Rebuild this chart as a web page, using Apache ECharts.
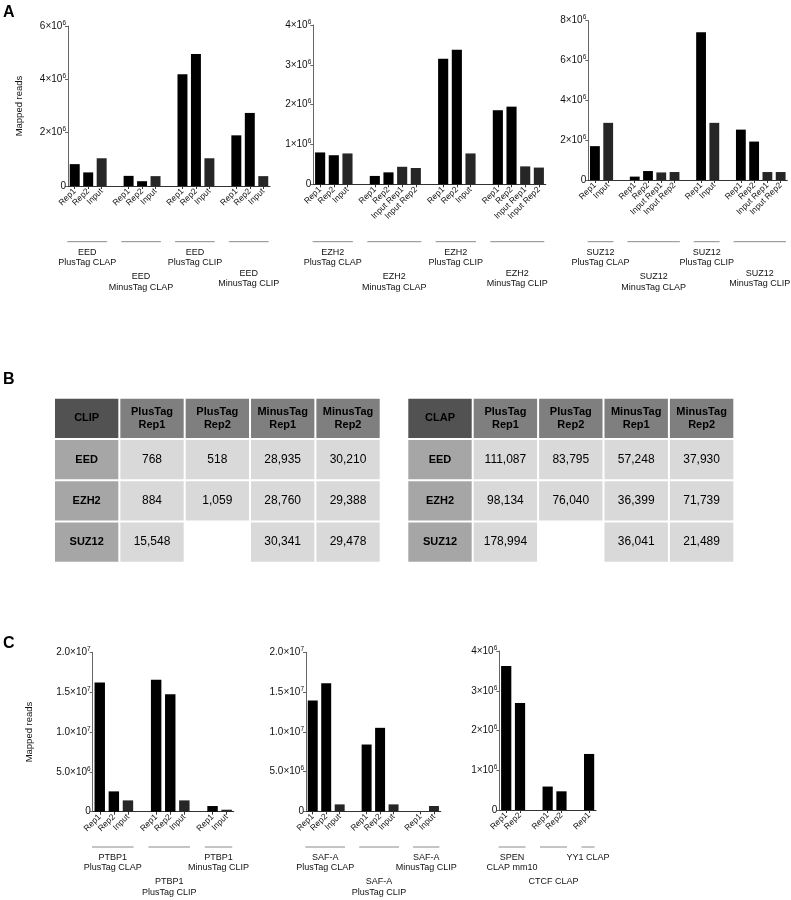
<!DOCTYPE html>
<html><head><meta charset="utf-8">
<script src="https://cdn.jsdelivr.net/npm/echarts@6.0.0/dist/echarts.min.js"></script>
<style>html,body{margin:0;padding:0;background:#fff}#c{width:791px;height:900px}</style>
</head><body><div id="c"></div>
<script>
// ---------------- Data ----------------
const eedCats   = ['Rep1','Rep2','Input','','Rep1','Rep2','Input','','Rep1','Rep2','Input','','Rep1','Rep2','Input'];
const eedVals   = [0.82e6,0.51e6,1.04e6,null,0.38e6,0.18e6,0.37e6,null,4.19e6,4.95e6,1.04e6,null,1.9e6,2.74e6,0.37e6];
const eedGroups = ['EED\nPlusTag CLAP','EED\nMinusTag CLAP','EED\nPlusTag CLIP','EED\nMinusTag CLIP'];
const eedTicks  = [0,2e6,4e6,6e6];

const ezh2Cats   = ['Rep1','Rep2','Input','','Rep1','Rep2','Input Rep1','Input Rep2','','Rep1','Rep2','Input','','Rep1','Rep2','Input Rep1','Input Rep2'];
const ezh2Vals   = [0.8e6,0.73e6,0.775e6,null,0.21e6,0.3e6,0.44e6,0.41e6,null,3.15e6,3.38e6,0.775e6,null,1.86e6,1.95e6,0.45e6,0.42e6];
const ezh2Groups = ['EZH2\nPlusTag CLAP','EZH2\nMinusTag CLAP','EZH2\nPlusTag CLIP','EZH2\nMinusTag CLIP'];
const ezh2Ticks  = [0,1e6,2e6,3e6,4e6];

const suz12Cats   = ['Rep1','Input','','Rep1','Rep2','Input Rep1','Input Rep2','','Rep1','Input','','Rep1','Rep2','Input Rep1','Input Rep2'];
const suz12Vals   = [1.7e6,2.87e6,null,0.17e6,0.45e6,0.38e6,0.4e6,null,7.42e6,2.87e6,null,2.53e6,1.93e6,0.4e6,0.4e6];
const suz12Groups = ['SUZ12\nPlusTag CLAP','SUZ12\nMinusTag CLAP','SUZ12\nPlusTag CLIP','SUZ12\nMinusTag CLIP'];
const suz12Ticks  = [0,2e6,4e6,6e6,8e6];

const ptbp1Cats   = ['Rep1','Rep2','Input','','Rep1','Rep2','Input','','Rep1','Input'];
const ptbp1Vals   = [16.2e6,2.55e6,1.42e6,null,16.55e6,14.75e6,1.42e6,null,0.71e6,0.25e6];
const ptbp1Groups = ['PTBP1\nPlusTag CLAP','PTBP1\nPlusTag CLIP','PTBP1\nMinusTag CLIP'];
const ptbp1Ticks  = [0,5e6,1e7,1.5e7,2e7];

const safaCats   = ['Rep1','Rep2','Input','','Rep1','Rep2','Input','','Rep1','Input'];
const safaVals   = [13.95e6,16.1e6,0.87e6,null,8.4e6,10.5e6,0.87e6,null,0,0.67e6];
const safaGroups = ['SAF-A\nPlusTag CLAP','SAF-A\nPlusTag CLIP','SAF-A\nMinusTag CLIP'];
const safaTicks  = [0,5e6,1e7,1.5e7,2e7];

const otherCats   = ['Rep1','Rep2','','Rep1','Rep2','','Rep1'];
const otherVals   = [3.62e6,2.69e6,null,0.59e6,0.47e6,null,1.41e6];
const otherGroups = ['SPEN\nCLAP mm10','CTCF CLAP','YY1 CLAP'];
const otherTicks  = [0,1e6,2e6,3e6,4e6];

const tableCols = ['PlusTag\nRep1','PlusTag\nRep2','MinusTag\nRep1','MinusTag\nRep2'];
const tableRows = ['EED','EZH2','SUZ12'];
const clipValues = [[768,518,28935,30210],[884,1059,28760,29388],[15548,null,30341,29478]];
const clapValues = [[111087,83795,57248,37930],[98134,76040,36399,71739],[178994,null,36041,21489]];

// ---------------- Layout ----------------
const FONT = '"Liberation Sans", Arial, sans-serif';
const LEVEL_OFF = [10.5, 31.5, 35];
const charts = [
  {cats:eedCats, vals:eedVals, groups:eedGroups, ticks:eedTicks, dec:0, grid:{left:68, top:26, width:202, height:160}, name:'Mapped reads', nameGap:44, lineY:241.7, levels:[0,2,0,1]},
  {cats:ezh2Cats, vals:ezh2Vals, groups:ezh2Groups, ticks:ezh2Ticks, dec:0, grid:{left:313.3, top:25, width:232.4, height:159.3}, lineY:241.7, levels:[0,2,0,1]},
  {cats:suz12Cats, vals:suz12Vals, groups:suz12Groups, ticks:suz12Ticks, dec:0, grid:{left:588.3, top:20.7, width:199, height:159.3}, lineY:241.7, levels:[0,2,0,1]},
  {cats:ptbp1Cats, vals:ptbp1Vals, groups:ptbp1Groups, ticks:ptbp1Ticks, dec:1, grid:{left:92.7, top:652.3, width:141, height:159.4}, name:'Mapped reads', nameGap:58, lineY:847, levels:[0,2,0]},
  {cats:safaCats, vals:safaVals, groups:safaGroups, ticks:safaTicks, dec:1, grid:{left:306, top:652.3, width:134.7, height:159}, lineY:847, levels:[0,2,0]},
  {cats:otherCats, vals:otherVals, groups:otherGroups, ticks:otherTicks, dec:0, grid:{left:499.3, top:651, width:96.7, height:159}, lineY:847, levels:[0,2,0]}
];
const tables = [
  {corner:'CLIP', values:clipValues, grid:{left:54, top:397.7, width:326.7, height:165}},
  {corner:'CLAP', values:clapValues, grid:{left:407.3, top:397.7, width:327, height:165}}
];

function yFmt(dec){
  return function(v){
    if (v === 0) return '{m|0}';
    const e = Math.floor(Math.log10(v) + 1e-9);
    const m = v / Math.pow(10, e);
    return '{m|' + m.toFixed(dec) + '×10}{e|' + e + '}';
  };
}
function groupRanges(cats){
  const r = []; let s = null;
  cats.forEach((c,i)=>{ if (c !== '') { if (s === null) s = i; } else if (s !== null) { r.push([s,i-1]); s = null; } });
  if (s !== null) r.push([s, cats.length-1]);
  return r;
}

const grids = [], xAxes = [], yAxes = [], series = [];
charts.forEach((ch, i) => {
  grids.push(Object.assign({outerBoundsMode:'none', containLabel:false}, ch.grid));
  xAxes.push({
    type:'category', gridIndex:i, data:ch.cats,
    axisLine:{lineStyle:{color:'#333', width:1.2}},
    axisTick:{show:true, alignWithLabel:true, length:3, lineStyle:{color:'#333'}, interval:(idx, val)=> val !== ''},
    axisLabel:{interval:0, rotate:45, margin:4, fontSize:8.5, fontFamily:FONT, color:'#111'},
    splitLine:{show:false}
  });
  const tk = ch.ticks;
  yAxes.push({
    type:'value', gridIndex:i, min:tk[0], max:tk[tk.length-1], interval:tk[1]-tk[0],
    name: ch.name || '', nameLocation:'middle', nameGap: ch.nameGap || 20, nameRotate:90, nameMoveOverlap:false,
    nameTextStyle:{fontSize:9.5, fontFamily:FONT, color:'#111'},
    axisLine:{show:true, lineStyle:{color:'#666', width:1}},
    axisTick:{show:true, length:3, lineStyle:{color:'#666'}},
    splitLine:{show:false},
    axisLabel:{margin:2, formatter:yFmt(ch.dec), fontFamily:FONT,
      rich:{m:{fontSize:10, fontFamily:FONT, color:'#111'}, e:{fontSize:6.5, fontFamily:FONT, color:'#111', padding:[0,0,6,0]}}}
  });
  series.push({
    type:'bar', xAxisIndex:i, yAxisIndex:i, barWidth:'74%',
    data: ch.vals.map((v,j)=>({value:v, itemStyle:{color: ch.cats[j].indexOf('Input')===0 ? '#262626' : '#000000'}})),
    silent:true, animation:false
  });
});

// tables
const cellColor = {corner:'#525252', head:'#7f7f7f', row:'#a6a6a6', cell:'#d9d9d9'};
tables.forEach((tb, k) => {
  const gi = charts.length + k;
  grids.push(Object.assign({outerBoundsMode:'none', containLabel:false}, tb.grid));
  xAxes.push({type:'category', gridIndex:gi, data:['c0','c1','c2','c3','c4'], show:false});
  yAxes.push({type:'category', gridIndex:gi, data:['r0','r1','r2','r3'], inverse:true, show:false});
  const cells = [];
  cells.push({pos:[0,0], text:tb.corner, kind:'corner'});
  tableCols.forEach((c,j)=>cells.push({pos:[j+1,0], text:c, kind:'head'}));
  tableRows.forEach((r,i)=>{
    cells.push({pos:[0,i+1], text:r, kind:'row'});
    tb.values[i].forEach((v,j)=>{ if (v !== null) cells.push({pos:[j+1,i+1], text:v.toLocaleString('en-US'), kind:'cell'}); });
  });
  series.push({
    type:'custom', xAxisIndex:gi, yAxisIndex:gi, silent:true, animation:false,
    data: cells.map(c=>c.pos),
    renderItem: function(params, api){
      const cell = cells[params.dataIndex];
      const p = api.coord([api.value(0), api.value(1)]);
      const s = api.size([1,1]);
      const bold = cell.kind !== 'cell';
      return {type:'group', children:[
        {type:'rect', shape:{x:p[0]-s[0]/2+1, y:p[1]-s[1]/2+1, width:s[0]-2, height:s[1]-2}, style:{fill:cellColor[cell.kind]}},
        {type:'text', x:p[0], y:p[1], style:{text:cell.text, align:'center', verticalAlign:'middle', textAlign:'center', textVerticalAlign:'middle',
          font:(bold ? 'bold 11px ' : '12px ') + FONT, fill:'#000', lineHeight:12.5}}
      ]};
    }
  });
});

const chart = echarts.init(document.getElementById('c'), null, {renderer:'canvas'});
chart.setOption({animation:false, backgroundColor:'#fff', grid:grids, xAxis:xAxes, yAxis:yAxes, series:series});

// group brackets and labels, positioned via the axis scales
const graphics = [];
charts.forEach((ch, i) => {
  const slot = ch.grid.width / ch.cats.length;
  groupRanges(ch.cats).forEach((rg, g) => {
    const x1 = chart.convertToPixel({xAxisIndex:i}, rg[0]) - 0.55*slot;
    const x2 = chart.convertToPixel({xAxisIndex:i}, rg[1]) + 0.4*slot;
    graphics.push({type:'line', shape:{x1:x1, y1:ch.lineY, x2:x2, y2:ch.lineY}, style:{stroke:'#8a8a8a', lineWidth:1}, silent:true});
    graphics.push({type:'text', x:(x1+x2)/2, y:ch.lineY + LEVEL_OFF[ch.levels[g]] - 5.25,
      style:{text:ch.groups[g], align:'center', verticalAlign:'top', textAlign:'center', textVerticalAlign:'top', font:'9px ' + FONT, fill:'#111', lineHeight:10.5}, silent:true});
  });
});
[['A',3,5],['B',3,372],['C',3,636]].forEach(l=>{
  graphics.push({type:'text', x:l[1], y:l[2], style:{text:l[0], font:'bold 16px ' + FONT, fill:'#000'}, silent:true});
});
chart.setOption({graphic:graphics});
</script>
</body></html>
